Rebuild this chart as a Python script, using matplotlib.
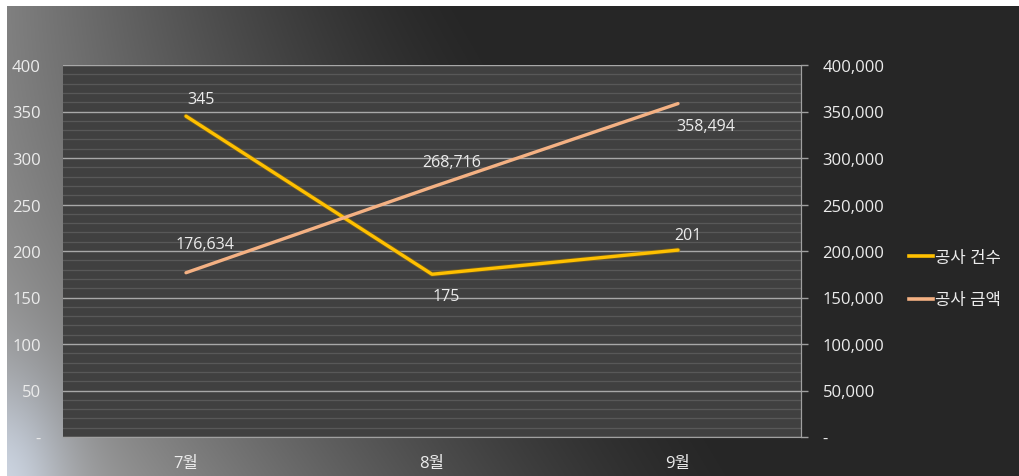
import numpy as np
import matplotlib.pyplot as plt
import matplotlib.patheffects as pe
from matplotlib.ticker import FuncFormatter, MultipleLocator

plt.rcParams['font.family'] = ['Open Sans', 'Noto Sans CJK KR', 'DejaVu Sans']

# monthly construction counts and amounts
months = ['7월', '8월', '9월']
counts = [345, 175, 201]
amounts = [176634, 268716, 358494]
count_label = '공사 건수'
amount_label = '공사 금액'

TXT = '#ececec'
YELLOW = '#ffc000'
SALMON = '#f4b183'

W, H = 1020, 477
fig = plt.figure(figsize=(W / 100, H / 100), dpi=100, facecolor='white')

# background: grey fading to dark from the left, with a pale glow in the lower-left corner
bg = fig.add_axes([7 / W, 0, 1 - 7 / W, 1 - 7 / H], zorder=-5)
bg.set_axis_off()
gx, gy = np.meshgrid(np.arange(1013, dtype=float), np.arange(470, dtype=float))
t = gy / 470.0
reach = 740 - 280 * t
amp = 90 + 45 * (1 - t) ** 2
fade = np.clip(1 - gx / reach, 0, 1) ** 1.4
grey = 38 + amp * fade
glow = np.exp(-((gx / 60.0) ** 2 + (gy / 100.0) ** 2))
img = np.stack([grey + 30 * glow, grey + 38 * glow, grey + 50 * glow], axis=-1)
img = np.clip(img, 0, 255) / 255
bg.imshow(img, origin='lower', aspect='auto', extent=[0, 1, 0, 1])
bg.set_xlim(0, 1)
bg.set_ylim(0, 1)

ax = fig.add_axes([63 / W, 39 / H, 738 / W, 372 / H])
ax.set_facecolor('#404040')
x = np.arange(len(months))

ax.plot(x, counts, color=YELLOW, lw=2.4, solid_capstyle='round', zorder=3,
        path_effects=[pe.Stroke(linewidth=3.6, foreground='#8a6a10', alpha=0.6), pe.Normal()])
ax.set_xlim(-0.5, 2.5)
ax.set_ylim(0, 400)
ax.yaxis.set_major_locator(MultipleLocator(50))
ax.yaxis.set_minor_locator(MultipleLocator(10))
ax.grid(axis='y', which='major', color='#a8a8a8', lw=1.0)
ax.grid(axis='y', which='minor', color='#585858', lw=0.9)
ax.set_axisbelow(True)
ax.set_xticks(x)
ax.set_xticklabels(months)
ax.yaxis.set_major_formatter(FuncFormatter(lambda v, p: '-' if v == 0 else f'{int(v)}'))
ax.tick_params(axis='x', length=0, pad=13, labelsize=12, labelcolor=TXT)
ax.tick_params(axis='y', which='both', length=0, pad=16, labelsize=12, labelcolor=TXT)
for s in ['top', 'left']:
    ax.spines[s].set_visible(False)
ax.spines['bottom'].set_color('#a0a0a0')
ax.spines['right'].set_color('#a0a0a0')

ax2 = ax.twinx()
ax2.plot(x, amounts, color=SALMON, lw=2.4, solid_capstyle='round', zorder=3)
ax2.set_ylim(0, 400000)
ax2.yaxis.set_major_locator(MultipleLocator(50000))
ax2.yaxis.set_major_formatter(FuncFormatter(lambda v, p: '-' if v == 0 else f'{int(v):,}'))
ax2.tick_params(axis='y', length=5, width=1, color='#a0a0a0', pad=10.5, labelsize=12, labelcolor=TXT)
for s in ['top', 'left', 'bottom']:
    ax2.spines[s].set_visible(False)
ax2.spines['right'].set_color('#a0a0a0')

# value labels
count_off = [(11, 12), (10, -16), (7, 11)]
amount_off = [(14, 21), (14, 18), (20, -16)]
for xi, v, o in zip(x, counts, count_off):
    ax.annotate(f'{v:,}', (xi, v), xytext=o, textcoords='offset points',
                ha='center', va='center', color=TXT, fontsize=11.5)
for xi, v, o in zip(x, amounts, amount_off):
    ax2.annotate(f'{v:,}', (xi, v), xytext=o, textcoords='offset points',
                 ha='center', va='center', color=TXT, fontsize=11.5)

h1 = plt.Line2D([], [], color=YELLOW, lw=2.6)
h2 = plt.Line2D([], [], color=SALMON, lw=2.6)
leg = fig.legend([h1, h2], [count_label, amount_label], loc='center left',
                 bbox_to_anchor=(894 / W, 1 - 280 / H), frameon=False, fontsize=12,
                 handlelength=1.45, handletextpad=0.12, labelspacing=1.6)
for t in leg.get_texts():
    t.set_color(TXT)

fig.savefig('out.png', dpi=100, facecolor=fig.get_facecolor())
